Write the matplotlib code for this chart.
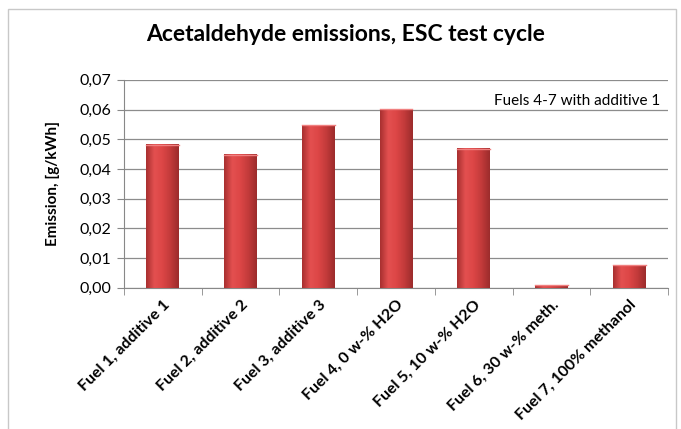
import matplotlib.pyplot as plt
import numpy as np
from matplotlib.colors import LinearSegmentedColormap
from matplotlib.patches import Rectangle

categories = ["Fuel 1, additive 1", "Fuel 2, additive 2", "Fuel 3, additive 3",
              "Fuel 4, 0 w-% H2O", "Fuel 5, 10 w-% H2O", "Fuel 6, 30 w-% meth.",
              "Fuel 7, 100% methanol"]
emission = [0.0482, 0.0448, 0.0547, 0.0601, 0.0468, 0.0008, 0.0076]
yticks = [0.00, 0.01, 0.02, 0.03, 0.04, 0.05, 0.06, 0.07]

plt.rcParams['font.family'] = ['Lato', 'DejaVu Sans']

fig = plt.figure(figsize=(6.81, 4.29), dpi=100)
# chart border (bottom edge lies outside the picture, as in the source)
fig.patches.append(Rectangle((0.012, -0.02), 0.98, 1.0, transform=fig.transFigure,
                             fill=False, edgecolor='#c8c8c8', linewidth=1))
ax = fig.add_axes([0.182, 0.329, 0.799, 0.485])

x = np.arange(len(categories))
bars = ax.bar(x, emission, width=0.42, color='#d24242', zorder=2)

# horizontal shading on each bar
cmap = LinearSegmentedColormap.from_list(
    'barshade', ['#a83030', '#e45050', '#dc4646', '#c23a3a', '#9c2c2c'])
grad = np.linspace(0, 1, 64).reshape(1, -1)
for b in bars:
    x0, w, h = b.get_x(), b.get_width(), b.get_height()
    ax.imshow(grad, cmap=cmap, aspect='auto', extent=(x0, x0 + w, 0, h),
              zorder=3, interpolation='bicubic')
    ax.plot([x0, x0 + w], [h, h], color='#f08080', lw=1, zorder=4)

ax.set_xlim(-0.5, len(categories) - 0.5)
ax.set_ylim(0, 0.07)
ax.set_yticks(yticks)
ax.set_yticklabels([f"{v:.2f}".replace('.', ',') for v in yticks], fontsize=11.5)
ax.set_xticks(x)
ax.set_xticklabels(categories, rotation=45, ha='right', rotation_mode='anchor',
                   fontsize=11.5, fontweight='bold')
ax.set_xticks(np.arange(len(categories) + 1) - 0.5, minor=True)
ax.tick_params(axis='x', which='major', length=0, pad=7)
ax.tick_params(axis='x', which='minor', length=5, color='#888888')
ax.tick_params(axis='y', length=5, color='#888888', pad=4)
ax.grid(axis='y', color='#8c8c8c', linewidth=0.9, zorder=0)
for s in ['top', 'right']:
    ax.spines[s].set_visible(False)
for s in ['left', 'bottom']:
    ax.spines[s].set_color('#888888')

ax.set_ylabel("Emission, [g/kWh]", fontsize=11, fontweight='bold', labelpad=14)
ax.text(0.985, 0.9, "Fuels 4-7 with additive 1", transform=ax.transAxes,
        ha='right', va='center', fontsize=11)
fig.text(0.507, 0.92, "Acetaldehyde emissions, ESC test cycle", ha='center',
         va='center', fontsize=16.5, fontweight='bold')

fig.savefig('out.png', dpi=100)
